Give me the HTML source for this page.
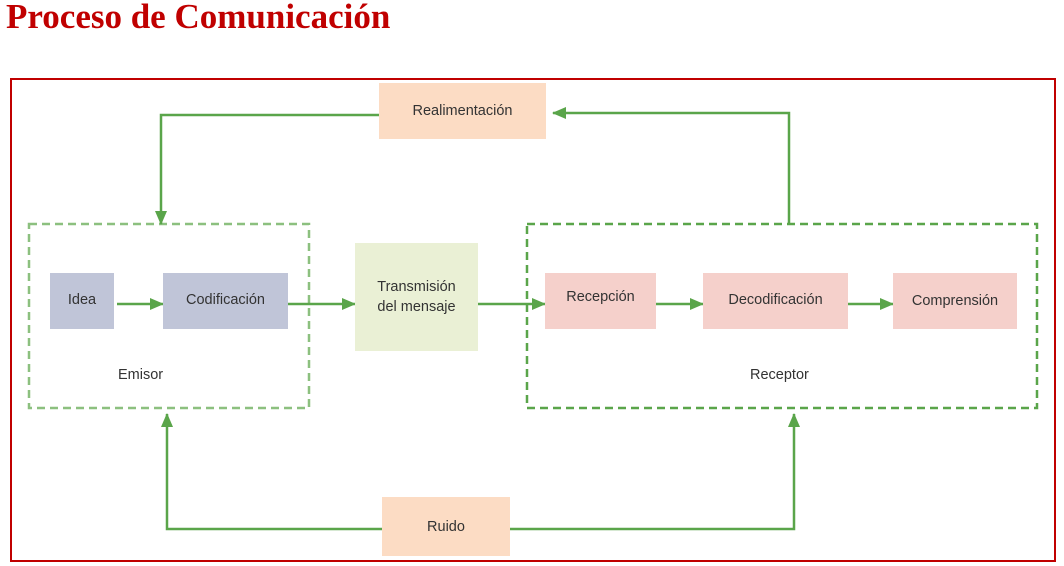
<!DOCTYPE html>
<html><head><meta charset="utf-8"><style>
body{margin:0;width:1064px;height:566px;background:#fff;overflow:hidden;position:relative;font-family:"Liberation Sans",sans-serif}
h1{position:absolute;left:6px;top:-3px;margin:0;font:bold 35px "Liberation Serif",serif;color:#c00000;white-space:nowrap}
.b{position:absolute;display:flex;align-items:center;justify-content:center;font-size:14.5px;color:#333;text-align:center;line-height:20px}
.l{position:absolute;font-size:14.5px;color:#333}
</style></head><body>
<h1>Proceso de Comunicación</h1>
<svg width="1064" height="566" style="position:absolute;left:0;top:0">
<defs><marker id="a" markerWidth="14" markerHeight="12" refX="13" refY="6" orient="auto" markerUnits="userSpaceOnUse"><path d="M0,0 L14,6 L0,12 z" fill="#5aa54a"/></marker></defs>
<rect x="11" y="79" width="1044" height="482" fill="none" stroke="#c00000" stroke-width="2"/>
<rect x="29" y="224" width="280" height="184" fill="none" stroke="#8cc07f" stroke-width="2.5" stroke-dasharray="8,5"/>
<rect x="527" y="224" width="510" height="184" fill="none" stroke="#5aa54a" stroke-width="2.5" stroke-dasharray="8,5"/>
<g stroke="#5aa54a" stroke-width="2.5" fill="none">
<polyline points="379,115 161,115 161,224" marker-end="url(#a)"/>
<polyline points="789,224 789,113 553,113" marker-end="url(#a)"/>
<polyline points="382,529 167,529 167,414" marker-end="url(#a)"/>
<polyline points="510,529 794,529 794,414" marker-end="url(#a)"/>
<line x1="117" y1="304" x2="163" y2="304" marker-end="url(#a)"/>
<line x1="288" y1="304" x2="355" y2="304" marker-end="url(#a)"/>
<line x1="478" y1="304" x2="545" y2="304" marker-end="url(#a)"/>
<line x1="645" y1="304" x2="703" y2="304" marker-end="url(#a)"/>
<line x1="822" y1="304" x2="893" y2="304" marker-end="url(#a)"/>
</g>
</svg>
<div class="b" style="left:379px;top:83px;width:167px;height:56px;background:#fcdcc4">Realimentación</div>
<div class="b" style="left:50px;top:273px;width:64px;height:56px;background:#c0c5d8;padding-bottom:3px;box-sizing:border-box">Idea</div>
<div class="b" style="left:163px;top:273px;width:125px;height:56px;background:#c0c5d8;padding-bottom:3px;box-sizing:border-box">Codificación</div>
<div class="b" style="left:355px;top:243px;width:123px;height:108px;background:#eaf0d5">Transmisión<br>del mensaje</div>
<div class="b" style="left:545px;top:273px;width:111px;height:56px;background:#f5d0cb;padding-bottom:8px;box-sizing:border-box">Recepción</div>
<div class="b" style="left:703px;top:273px;width:145px;height:56px;background:#f5d0cb;padding-bottom:3px;box-sizing:border-box">Decodificación</div>
<div class="b" style="left:893px;top:273px;width:124px;height:56px;background:#f5d0cb">Comprensión</div>
<div class="b" style="left:382px;top:497px;width:128px;height:59px;background:#fcdcc4">Ruido</div>
<div class="l" style="left:118px;top:367px">Emisor</div>
<div class="l" style="left:750px;top:367px">Receptor</div>
</body></html>
